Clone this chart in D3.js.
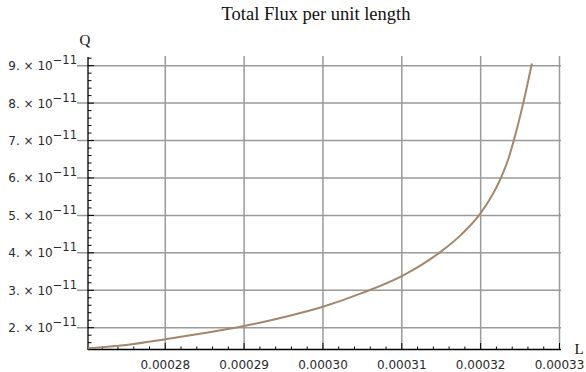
<!DOCTYPE html>
<html><head><meta charset="utf-8">
<script src="https://cdn.jsdelivr.net/npm/d3@7"></script>
<style>
html,body{margin:0;padding:0;background:#fff;}
svg{display:block;}
</style></head>
<body>
<script>
// Data
const L = [0.0002702,0.000275,0.00028,0.000285,0.00029,0.000295,0.00030,0.000305,0.00031,0.0003125,0.000315,0.0003175,0.00032,0.0003225,0.0003235,0.0003242,0.0003254,0.0003265];
const Q = [1.45e-11,1.54e-11,1.69e-11,1.86e-11,2.045e-11,2.28e-11,2.56e-11,2.93e-11,3.38e-11,3.68e-11,4.04e-11,4.48e-11,5.06e-11,5.97e-11,6.5e-11,7.0e-11,8.0e-11,9.06e-11];
const xTicks = [0.00028,0.00029,0.00030,0.00031,0.00032,0.00033];
const xTickLabels = ["0.00028","0.00029","0.00030","0.00031","0.00032","0.00033"];
const yTicks = [2e-11,3e-11,4e-11,5e-11,6e-11,7e-11,8e-11,9e-11];
const yTickMantissa = ["2.","3.","4.","5.","6.","7.","8.","9."];
const title = "Total Flux per unit length";

const W = 586, H = 372;
const svg = d3.select("body").append("svg").attr("width",W).attr("height",H);

const x = d3.scaleLinear().domain([0.0002702,0.00033]).range([88,559.5]);
const y = d3.scaleLinear().domain([1.418e-11,9.232e-11]).range([349.5,57]);

const grid = "#9a9a9a";
// grid lines
svg.append("g").selectAll("line").data(xTicks).join("line")
  .attr("x1",d=>x(d)).attr("x2",d=>x(d)).attr("y1",56).attr("y2",349.5)
  .attr("stroke",grid).attr("stroke-width",1.5);
svg.append("g").selectAll("line").data(yTicks).join("line")
  .attr("x1",77).attr("x2",561).attr("y1",d=>y(d)).attr("y2",d=>y(d))
  .attr("stroke",grid).attr("stroke-width",1.5);

// minor ticks
const xMinor = d3.range(0,31).map(i=>0.00027+i*0.000002).filter(v=>v>=0.0002702 && v<=0.00033);
const yMinor = d3.range(0,50).map(i=>1.4e-11+i*0.2e-11).filter(v=>v>=1.418e-11 && v<=9.232e-11);
svg.append("g").selectAll("line").data(xMinor).join("line")
  .attr("x1",d=>x(d)).attr("x2",d=>x(d)).attr("y1",349.5).attr("y2",d=>Math.abs(d*1e5-Math.round(d*1e5))<1e-6?343:346.5)
  .attr("stroke","#000").attr("stroke-width",1);
svg.append("g").selectAll("line").data(yMinor).join("line")
  .attr("y1",d=>y(d)).attr("y2",d=>y(d)).attr("x1",88).attr("x2",d=>Math.abs(d*1e11-Math.round(d*1e11))<1e-6?94:91.5)
  .attr("stroke","#000").attr("stroke-width",1);

// axes lines
svg.append("line").attr("x1",88).attr("x2",88).attr("y1",57).attr("y2",350).attr("stroke","#000").attr("stroke-width",1.3);
svg.append("line").attr("x1",88).attr("x2",561).attr("y1",349.5).attr("y2",349.5).attr("stroke","#000").attr("stroke-width",1.3);

// curve
const pts = L.map((l,i)=>[l,Q[i]]);
svg.append("path").datum(pts)
  .attr("d", d3.line().x(d=>x(d[0])).y(d=>y(d[1])).curve(d3.curveMonotoneX))
  .attr("fill","none").attr("stroke","#a4876b").attr("stroke-width",2);

// x tick labels
const tickFont = "'DejaVu Sans', Verdana, sans-serif";
svg.append("g").selectAll("text").data(xTicks).join("text")
  .attr("x",d=>x(d)).attr("y",368.5).attr("text-anchor","middle")
  .attr("font-family",tickFont).attr("font-size",12).attr("fill","#2a2a2a")
  .text((d,i)=>xTickLabels[i]);

// y tick labels
const yl = svg.append("g").selectAll("text").data(yTicks).join("text")
  .attr("x",77).attr("y",d=>y(d)+4.5).attr("text-anchor","end")
  .attr("font-family",tickFont).attr("font-size",12).attr("fill","#2a2a2a");
yl.append("tspan").text((d,i)=>yTickMantissa[i]+" \u00d7 10");
yl.append("tspan").attr("dy",-6).attr("font-size",11.5).text("\u221211");

// title and axis labels
svg.append("text").attr("x",316).attr("y",20).attr("text-anchor","middle")
  .attr("font-family","'Liberation Serif', serif").attr("font-size",18.5).attr("fill","#111").text(title);
svg.append("text").attr("x",85).attr("y",45).attr("text-anchor","middle")
  .attr("font-family","'Liberation Serif', serif").attr("font-size",15).attr("fill","#111").text("Q");
svg.append("text").attr("x",579).attr("y",354).attr("text-anchor","middle")
  .attr("font-family","'Liberation Serif', serif").attr("font-size",15).attr("fill","#111").text("L");
</script>
</body></html>
